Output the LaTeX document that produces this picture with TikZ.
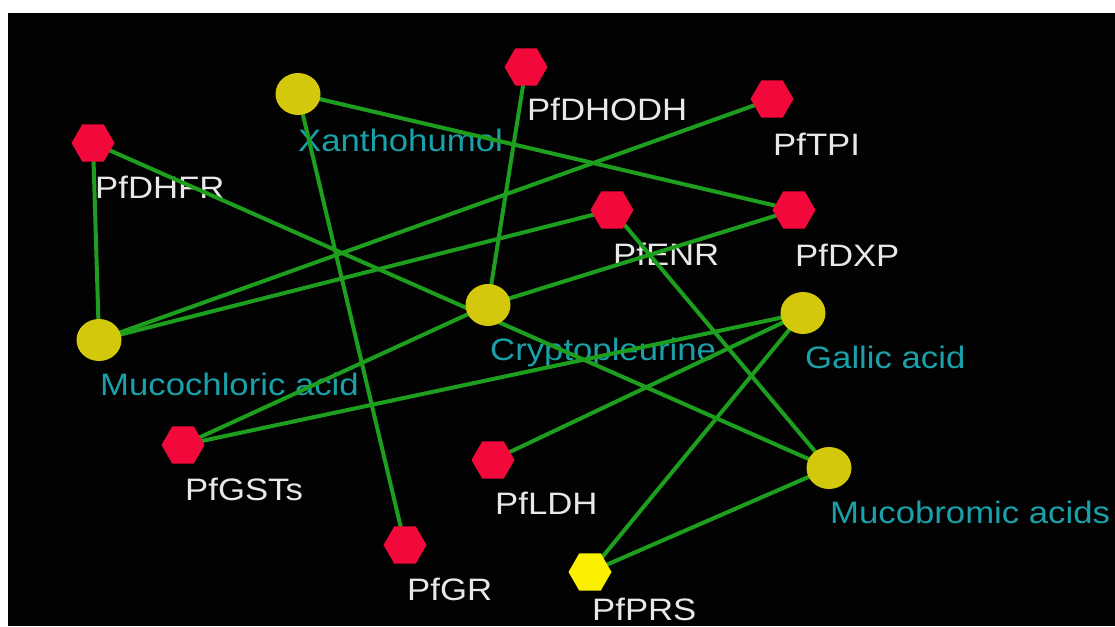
\documentclass[tikz,border=0pt]{standalone}
\usepackage{graphicx}
\usepackage{fontspec}
\setmainfont{Liberation Sans}
\usetikzlibrary{shapes.geometric}

\pgfdeclarelayer{backdrop}
\pgfdeclarelayer{captions}
\pgfdeclarelayer{links}
\pgfsetlayers{backdrop,captions,links,main}

\definecolor{canvasblack}{RGB}{2,2,2}
\definecolor{edgegreen}{RGB}{30,158,30}
\definecolor{protred}{RGB}{242,8,58}
\definecolor{compyellow}{RGB}{212,200,12}
\definecolor{brightyellow}{RGB}{250,240,0}
\definecolor{protlabel}{RGB}{232,232,232}
\definecolor{complabel}{RGB}{26,160,168}

% slightly widened label text
\newcommand{\wlbl}[1]{\scalebox{1.12}[1]{#1}}

\tikzset{
  protein/.style={regular polygon, regular polygon sides=6, minimum size=43pt,
    inner sep=0pt, fill=protred, draw=none},
  target/.style={protein, fill=brightyellow},
  compound/.style={ellipse, minimum width=45pt, minimum height=42pt,
    inner sep=0pt, fill=compyellow, draw=none},
  link/.style={draw=edgegreen, line width=4pt},
  plabel/.style={anchor=base west, text=protlabel, inner sep=0pt,
    font=\fontsize{31}{31}\selectfont},
  clabel/.style={plabel, text=complabel},
}

\begin{document}
\begin{tikzpicture}[x=1pt, y=-1pt]
\useasboundingbox (0,0) rectangle (1115,626);

\begin{pgfonlayer}{backdrop}
  \fill[white] (0,0) rectangle (1115,626);
  \fill[canvasblack] (8,13) rectangle (1115,626);
\end{pgfonlayer}

% proteins
\node[protein] (pfdhfr)  at (93,143)  {};
\node[protein] (pfdhodh) at (526,67)  {};
\node[protein] (pftpi)   at (772,99)  {};
\node[protein] (pfdxp)   at (794,210) {};
\node[protein] (pfenr)   at (612,210) {};
\node[protein] (pfgsts)  at (183,445) {};
\node[protein] (pfldh)   at (493,460) {};
\node[protein] (pfgr)    at (405,545) {};
\node[target]  (pfprs)   at (590,572) {};

% compounds
\node[compound] (xanth)   at (298,94)  {};
\node[compound] (crypto)  at (488,305) {};
\node[compound] (gallic)  at (803,313) {};
\node[compound] (mucocl)  at (99,340)  {};
\node[compound] (mucobr)  at (829,468) {};

% labels
\begin{pgfonlayer}{captions}
  \node[plabel] (pfdhfr-t)  at ([shift={(2,55)}]pfdhfr.center)  {\wlbl{PfDHFR}};
  \node[plabel] (pfdhodh-t) at ([shift={(1,53)}]pfdhodh.center) {\wlbl{PfDHODH}};
  \node[plabel] (pftpi-t)   at ([shift={(1,56)}]pftpi.center)   {\wlbl{PfTPI}};
  \node[plabel] (pfdxp-t)   at ([shift={(1,56)}]pfdxp.center)   {\wlbl{PfDXP}};
  \node[plabel] (pfenr-t)   at ([shift={(1,55)}]pfenr.center)   {\wlbl{PfENR}};
  \node[plabel] (pfgsts-t)  at ([shift={(2,55)}]pfgsts.center)  {\wlbl{PfGSTs}};
  \node[plabel] (pfldh-t)   at ([shift={(2,54)}]pfldh.center)   {\wlbl{PfLDH}};
  \node[plabel] (pfgr-t)    at ([shift={(2,55)}]pfgr.center)    {\wlbl{PfGR}};
  \node[plabel] (pfprs-t)   at ([shift={(2,48)}]pfprs.center)   {\wlbl{PfPRS}};
  \node[clabel] (xanth-t)   at ([shift={(0,57)}]xanth.center)   {\wlbl{Xanthohumol}};
  \node[clabel] (crypto-t)  at ([shift={(2,55)}]crypto.center)  {\wlbl{Cryptopleurine}};
  \node[clabel] (gallic-t)  at ([shift={(2,55)}]gallic.center)  {\wlbl{Gallic acid}};
  \node[clabel] (mucocl-t)  at ([shift={(1,55)}]mucocl.center)  {\wlbl{Mucochloric acid}};
  \node[clabel] (mucobr-t)  at ([shift={(1,55)}]mucobr.center)  {\wlbl{Mucobromic acids}};
\end{pgfonlayer}

% interactions
\begin{pgfonlayer}{links}
  \draw[link] (xanth.center)  -- (pfdxp.center);
  \draw[link] (xanth.center)  -- (pfgr.center);
  \draw[link] (pfdhfr.center) -- (mucocl.center);
  \draw[link] (pfdhfr.center) -- (mucobr.center);
  \draw[link] (mucocl.center) -- (pftpi.center);
  \draw[link] (mucocl.center) -- (pfenr.center);
  \draw[link] (crypto.center) -- (pfdhodh.center);
  \draw[link] (crypto.center) -- (pfdxp.center);
  \draw[link] (crypto.center) -- (pfgsts.center);
  \draw[link] (gallic.center) -- (pfgsts.center);
  \draw[link] (gallic.center) -- (pfldh.center);
  \draw[link] (gallic.center) -- (pfprs.center);
  \draw[link] (pfenr.center)  -- (mucobr.center);
  \draw[link] (mucobr.center) -- (pfprs.center);
\end{pgfonlayer}
\end{tikzpicture}
\end{document}
